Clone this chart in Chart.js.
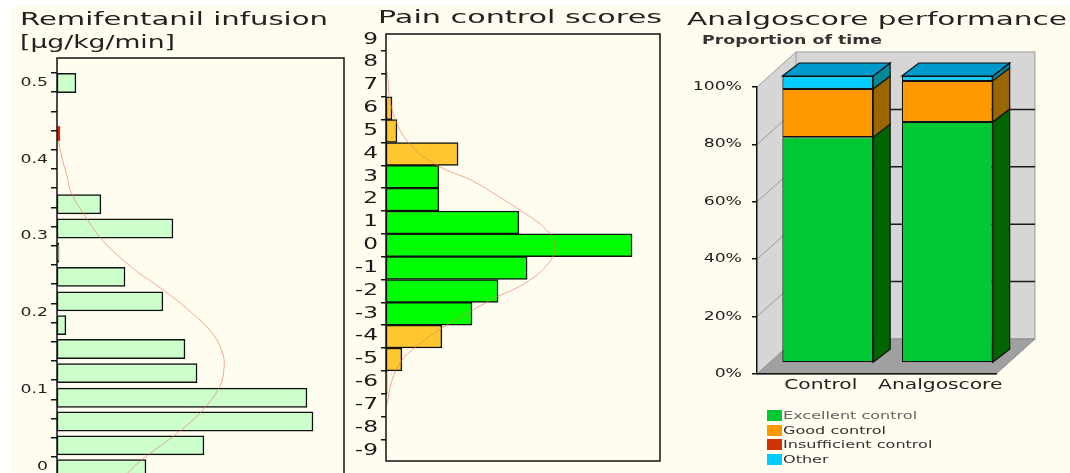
<!DOCTYPE html>
<html>
<head>
<meta charset="utf-8">
<script src="https://cdn.jsdelivr.net/npm/chart.js@4.4.1/dist/chart.umd.min.js"></script>
<style>
  html, body { margin: 0; padding: 0; width: 1070px; height: 473px; overflow: hidden; background: #ffffff; }
  #panel { position: absolute; left: 10px; top: 6px; width: 1060px; height: 467px; background: #fffcf0; }
  canvas { position: absolute; top: 0; }
  .t { position: absolute; white-space: nowrap; font-family: "DejaVu Sans", sans-serif; color: #222; line-height: 1; transform-origin: 0 0; }
  #legend { position: absolute; left: 767px; top: 410px; font-family: "DejaVu Sans", sans-serif; font-size: 11px; }
  #legend .row { position: absolute; left: 0; height: 11px; display: flex; align-items: center; white-space: nowrap; }
  #legend .sw { width: 15px; height: 11px; margin-right: 1px; }
  #legend .lb { line-height: 11px; transform-origin: 0 50%; }
</style>
</head>
<body>
<div id="panel"></div>
<canvas id="remi" width="352" height="500" style="left:0px"></canvas>
<canvas id="pain" width="330" height="473" style="left:350px"></canvas>
<canvas id="perf" width="390" height="473" style="left:680px"></canvas>

<div class="t" style="left:20px;top:11px;font-size:17px" data-w="308">Remifentanil infusion</div>
<div class="t" style="left:20px;top:34px;font-size:17px" data-w="155">[µg/kg/min]</div>
<div class="t" style="left:378px;top:8px;font-size:18px" data-w="284">Pain control scores</div>
<div class="t" style="left:687px;top:10px;font-size:18px" data-w="380">Analgoscore performance</div>
<div class="t" style="left:702px;top:35px;font-size:11.5px;font-weight:bold;color:#333" data-w="180">Proportion of time</div>
<div id="legend"></div>

<script>
// ---- Remifentanil infusion: histogram of dose bins (µg/kg/min) and share of time ----
const remiBins  = [-0.0035, 0.0275, 0.0585, 0.0895, 0.1215, 0.153, 0.184, 0.215, 0.247, 0.2785, 0.310, 0.3415, 0.4995];
const remiShare = [31.0, 51.2, 89.2, 87.1, 48.8, 44.6, 3.1, 36.9, 23.7, 0.7, 40.4, 15.3, 6.6];
// fitted distribution curve (dose, share)
const remiCurveDose  = [0.443, 0.424, 0.403, 0.378, 0.357, 0.326, 0.294, 0.258, 0.231, 0.200, 0.172, 0.146, 0.129, 0.105, 0.074, 0.043, 0.012, -0.004, -0.03];
const remiCurveShare = [0.6, 0.6, 1.7, 3.5, 4.9, 9.8, 16.0, 26.5, 36.6, 47.0, 54.4, 57.8, 58.2, 56.8, 50.9, 41.8, 30.7, 25.8, 19.5];

// ---- Pain control scores: histogram of scores ----
const painScores = [6, 5, 4, 3, 2, 1, 0, -1, -2, -3, -4, -5, -6];
const painShare  = [2.2, 4.0, 26.3, 19.3, 19.3, 48.5, 89.8, 51.5, 40.9, 31.4, 20.4, 5.8, 0.4];
const painCurveScore = [7.6, 5.96, 4.52, 3.48, 2.83, 2.04, 1.48, 0.74, 0, -0.87, -1.74, -2.30, -3.04, -3.74, -4.48, -5.04, -5.91, -6.96];
const painCurveShare = [0.4, 2.2, 8.0, 19.0, 31.4, 42.3, 49.6, 58.0, 61.7, 58.8, 49.6, 39.8, 28.8, 19.0, 10.6, 5.8, 2.2, 0.4];

// ---- Analgoscore performance: proportion of time (%) ----
const perfGroups = ['Control', 'Analgoscore'];
const perfSeries = ['Excellent control', 'Good control', 'Insufficient control', 'Other'];
const excellentCtl    = [78.7, 84.0];
const goodCtl         = [16.8, 14.3];
const insufficientCtl = [0, 0];
const otherCtl        = [4.5, 1.7];
const perfValues = [excellentCtl, goodCtl, insufficientCtl, otherCtl];

const frontColors = ['#00c832', '#ff9900', '#cc3300', '#00ccff'];
const sideColors  = ['#006400', '#996600', '#802000', '#008899'];
const topColors   = ['#00a028', '#cc7a00', '#a02800', '#0099cc'];

const FONT = '"DejaVu Sans", sans-serif';

// draw every canvas label with horizontally widened glyphs, anchored at its own position
function stretchText(canvas, sx) {
  const ctx = canvas.getContext('2d');
  const fill = ctx.fillText;
  ctx.fillText = function (text, x, y) {
    this.save();
    this.translate(x, y);
    this.scale(sx, 1);
    fill.call(this, text, 0, 0);
    this.restore();
  };
}

// stroke a frame around the plotting area
const framePlugin = {
  id: 'frame',
  afterDraw(chart, args, opts) {
    if (!opts.show) return;
    const { left, top, right, bottom } = chart.chartArea;
    const ctx = chart.ctx;
    ctx.save();
    ctx.strokeStyle = '#111';
    ctx.lineWidth = 1.5;
    ctx.strokeRect(left, top, right - left, bottom - top);
    ctx.restore();
  }
};

const curveStyle = {
  type: 'line',
  borderColor: 'rgba(240,125,85,0.65)',
  borderWidth: 1,
  pointRadius: 0,
  tension: 0.4,
  fill: false
};

// Remifentanil histogram
const remiCanvas = document.getElementById('remi');
stretchText(remiCanvas, 1.38);
new Chart(remiCanvas, {
  type: 'bar',
  data: {
    datasets: [
      Object.assign({}, curveStyle, {
        data: remiCurveDose.map((d, i) => ({ x: remiCurveShare[i], y: d })),
        segment: {
          borderColor: c => c.p0DataIndex === 0 ? '#e02000' : undefined,
          borderWidth: c => c.p0DataIndex === 0 ? 3 : undefined
        }
      }),
      {
        type: 'bar',
        data: remiBins.map((b, i) => ({ x: remiShare[i], y: b })),
        backgroundColor: '#ccffcc',
        borderColor: '#111',
        borderWidth: 1.5,
        borderSkipped: false,
        barPercentage: 1,
        categoryPercentage: 1
      }
    ]
  },
  options: {
    indexAxis: 'y',
    responsive: false,
    animation: false,
    layout: { padding: { top: 58, right: 8, bottom: 7, left: 0 } },
    scales: {
      x: { type: 'linear', min: 0, max: 100, display: false },
      y: {
        type: 'linear', min: -0.03, max: 0.532, offset: false,
        afterFit(s) { s.width = 57; },
        ticks: {
          stepSize: 0.025, includeBounds: false, padding: 3,
          color: '#222', font: { family: FONT, size: 12.5 },
          callback(v) {
            const t = Math.round(v * 1000);
            if (t % 100 !== 0) return '';
            return t === 0 ? '0' : (t / 1000).toFixed(1);
          }
        },
        grid: { drawOnChartArea: false, color: '#111', tickLength: 6, lineWidth: 1.5 },
        border: { display: false }
      }
    },
    plugins: { legend: { display: false }, tooltip: { enabled: false }, frame: { show: true } }
  },
  plugins: [framePlugin]
});

// Pain control scores histogram
const painCanvas = document.getElementById('pain');
stretchText(painCanvas, 1.55);
new Chart(painCanvas, {
  type: 'bar',
  data: {
    datasets: [
      Object.assign({}, curveStyle, {
        data: painCurveScore.map((s, i) => ({ x: painCurveShare[i], y: s }))
      }),
      {
        type: 'bar',
        data: painScores.map((s, i) => ({ x: painShare[i], y: s })),
        backgroundColor: painScores.map(s => Math.abs(s) <= 3 ? '#00ff00' : '#ffc830'),
        borderColor: '#111',
        borderWidth: 1.5,
        borderSkipped: false,
        barPercentage: 1,
        categoryPercentage: 1
      }
    ]
  },
  options: {
    indexAxis: 'y',
    responsive: false,
    animation: false,
    layout: { padding: { top: 34, right: 20, bottom: 8, left: 0 } },
    scales: {
      x: { type: 'linear', min: 0, max: 100, display: false },
      y: {
        type: 'linear', min: -9.45, max: 9.25, offset: false,
        afterFit(s) { s.width = 36; },
        ticks: { stepSize: 1, includeBounds: false, padding: 3, color: '#1a1a1a', font: { family: FONT, size: 15 } },
        grid: { drawOnChartArea: false, color: '#111', tickLength: 5, lineWidth: 1.5 },
        border: { display: false }
      }
    },
    plugins: { legend: { display: false }, tooltip: { enabled: false }, frame: { show: true } }
  },
  plugins: [framePlugin]
});

// 3D look for the stacked column chart: walls, floor, bar sides and tops
const depthPlugin = {
  id: 'depth3d',
  beforeDraw(chart, args, o) {
    const ctx = chart.ctx;
    const { left: L, right: R, top: T, bottom: B } = chart.chartArea;
    const wx = o.wallDx, wy = o.wallDy;
    ctx.save();
    ctx.lineWidth = 1;
    // left wall
    ctx.beginPath();
    ctx.moveTo(L, T); ctx.lineTo(L + wx, T - wy); ctx.lineTo(L + wx, B - wy); ctx.lineTo(L, B); ctx.closePath();
    ctx.fillStyle = '#d6d6d6'; ctx.fill();
    // back wall
    ctx.fillStyle = '#d6d6d6';
    ctx.fillRect(L + wx, T - wy, R - L, B - T);
    ctx.strokeStyle = '#9a9a9a';
    ctx.strokeRect(L + wx, T - wy, R - L, B - T);
    // floor
    ctx.beginPath();
    ctx.moveTo(L, B); ctx.lineTo(R, B); ctx.lineTo(R + wx, B - wy); ctx.lineTo(L + wx, B - wy); ctx.closePath();
    ctx.fillStyle = '#a0a0a0'; ctx.fill();
    ctx.strokeStyle = '#8a8a8a'; ctx.stroke();
    // gridlines on walls
    const ys = chart.scales.y;
    ys.ticks.forEach(t => {
      const y = ys.getPixelForValue(t.value);
      ctx.strokeStyle = '#9a9a9a'; ctx.lineWidth = 1;
      ctx.beginPath(); ctx.moveTo(L, y); ctx.lineTo(L + wx, y - wy); ctx.stroke();
      if (t.value > 0 && t.value < 100) {
        ctx.strokeStyle = '#1a1a1a'; ctx.lineWidth = 1.5;
        ctx.beginPath(); ctx.moveTo(L + wx, y - wy); ctx.lineTo(R + wx, y - wy); ctx.stroke();
      }
    });
    ctx.restore();
  },
  beforeDatasetsDraw(chart, args, o) {
    chart.ctx.save();
    chart.ctx.translate(o.barDx, -o.barDy);
  },
  afterDatasetsDraw(chart, args, o) {
    const ctx = chart.ctx;
    ctx.restore();
    const dx = o.barDx, dy = o.barDy, px = o.depthDx, py = o.depthDy;
    const n = chart.data.labels.length;
    ctx.save();
    ctx.lineWidth = 1.2;
    ctx.strokeStyle = '#111';
    for (let j = 0; j < n; j++) {
      let topMost = -1;
      chart.data.datasets.forEach((ds, d) => { if (ds.data[j] > 0) topMost = d; });
      chart.data.datasets.forEach((ds, d) => {
        if (!(ds.data[j] > 0)) return;
        const el = chart.getDatasetMeta(d).data[j];
        const p = el.getProps(['x', 'y', 'base', 'width'], true);
        const l = p.x - p.width / 2 + dx, r = p.x + p.width / 2 + dx;
        const t = p.y - dy, b = p.base - dy;
        // side face
        ctx.beginPath();
        ctx.moveTo(r, t); ctx.lineTo(r + px, t - py); ctx.lineTo(r + px, b - py); ctx.lineTo(r, b); ctx.closePath();
        ctx.fillStyle = sideColors[d]; ctx.fill(); ctx.stroke();
        // top face
        if (d === topMost) {
          ctx.beginPath();
          ctx.moveTo(l, t); ctx.lineTo(l + px, t - py); ctx.lineTo(r + px, t - py); ctx.lineTo(r, t); ctx.closePath();
          ctx.fillStyle = topColors[d]; ctx.fill(); ctx.stroke();
        }
      });
    }
    ctx.restore();
  }
};

const perfCanvas = document.getElementById('perf');
stretchText(perfCanvas, 1.5);
new Chart(perfCanvas, {
  type: 'bar',
  data: {
    labels: perfGroups,
    datasets: perfSeries.map((name, i) => ({
      label: name,
      data: perfValues[i],
      backgroundColor: frontColors[i],
      borderColor: '#111',
      borderWidth: c => (c.raw > 0 ? 1.2 : 0),
      borderSkipped: false,
      barPercentage: 0.76,
      categoryPercentage: 1,
      clip: false
    }))
  },
  options: {
    responsive: false,
    animation: false,
    layout: { padding: { top: 87, right: 74, bottom: 0, left: 0 } },
    scales: {
      x: {
        stacked: true,
        afterFit(s) { s.height = 99; },
        grid: { display: false, drawTicks: false },
        border: { display: true, color: '#111', width: 1.5 },
        ticks: { padding: 3, labelOffset: 4, color: '#222', font: { family: FONT, size: 13.5 } }
      },
      y: {
        stacked: true, min: 0, max: 100,
        afterFit(s) { s.width = 77; },
        ticks: { stepSize: 20, padding: 10, color: '#222', font: { family: FONT, size: 11.5 }, callback: v => v + '%' },
        grid: { drawOnChartArea: false, color: '#111', tickLength: 5, lineWidth: 1.5 },
        border: { display: true, color: '#111', width: 1.5 }
      }
    },
    plugins: {
      legend: { display: false },
      tooltip: { enabled: false },
      depth3d: { wallDx: 39, wallDy: 35, barDx: 11, barDy: 11, depthDx: 17, depthDy: 13 }
    }
  },
  plugins: [depthPlugin]
});

// legend rows built from the series names and colours
const legend = document.getElementById('legend');
perfSeries.forEach((name, i) => {
  const row = document.createElement('div');
  row.className = 'row';
  row.style.top = (i * 14.5) + 'px';
  const sw = document.createElement('div');
  sw.className = 'sw';
  sw.style.background = frontColors[i];
  const lb = document.createElement('div');
  lb.className = 'lb';
  lb.textContent = name;
  lb.style.color = i === 0 ? '#666' : '#333';
  lb.style.transform = 'scaleX(1.46)';
  row.appendChild(sw); row.appendChild(lb);
  legend.appendChild(row);
});

// stretch title lettering to its line width
document.querySelectorAll('.t').forEach(el => {
  const w = +el.dataset.w;
  el.style.transform = 'scaleX(' + (w / el.getBoundingClientRect().width) + ')';
});
</script>
</body>
</html>
